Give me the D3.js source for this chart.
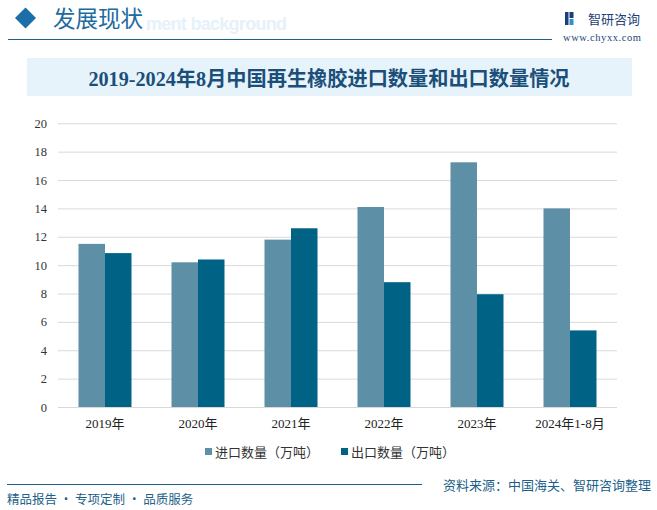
<!DOCTYPE html>
<html><head><meta charset="utf-8">
<script src="https://cdn.jsdelivr.net/npm/d3@7"></script>
<style>body{margin:0;background:#fff}svg{display:block}</style>
</head><body>
<script>
const categories = ["2019年","2020年","2021年","2022年","2023年","2024年1-8月"];
const seriesNames = ["进口数量（万吨）","出口数量（万吨）"];
const importValues = [11.5, 10.2, 11.8, 14.1, 17.25, 14.0];
const exportValues = [10.85, 10.4, 12.6, 8.8, 7.95, 5.4];
const yTicks = [0,2,4,6,8,10,12,14,16,18,20];
const colors = ["#5d8fa7","#006385"];

const W=657,H=510;
const svg=d3.select("body").append("svg").attr("width",W).attr("height",H);
const serif='"Liberation Serif","DejaVu Serif","Noto Sans CJK SC",serif';
const sans='"Noto Sans CJK SC","Noto Sans",sans-serif';

// header
svg.append("text").attr("x",146).attr("y",30).text("ment background").attr("textLength",141)
  .attr("font-family",'"Liberation Sans",Arial,sans-serif').attr("font-weight","bold").attr("font-size",18).attr("fill","#e6f1f9");
svg.append("path").attr("d","M25.5,7.5 L36,18 L25.5,28.5 L15,18 Z").attr("fill","#1a6fa8");
svg.append("text").attr("x",53).attr("y",27).text("发展现状")
  .attr("font-family",sans).attr("font-size",22.5).attr("fill","#1b6aa0");
svg.append("line").attr("x1",8).attr("x2",552).attr("y1",39.5).attr("y2",39.5).attr("stroke","#1d5f8a").attr("stroke-width",1.2);
// logo
const lg=svg.append("g");
lg.append("rect").attr("x",565).attr("y",12).attr("width",3.5).attr("height",13).attr("fill","#1d3f77");
lg.append("rect").attr("x",569.5).attr("y",12).attr("width",4).attr("height",6).attr("fill","#1d3f77");
lg.append("rect").attr("x",569.5).attr("y",19).attr("width",4).attr("height",6).attr("fill","#2d8fd0");
svg.append("text").attr("x",588).attr("y",24).text("智研咨询")
  .attr("font-family",sans).attr("font-size",13).attr("fill","#1d3f77");
svg.append("text").attr("x",563).attr("y",41).text("www.chyxx.com").attr("textLength",78)
  .attr("font-family",serif).attr("font-size",10.5).attr("fill","#1d3f77");

// title band
svg.append("rect").attr("x",27).attr("y",58).attr("width",605).attr("height",38).attr("fill","#e6f3fb");
svg.append("text").attr("x",329).attr("y",86).attr("text-anchor","middle")
  .text("2019-2024年8月中国再生橡胶进口数量和出口数量情况")
  .attr("font-family",serif).attr("font-weight","bold").attr("font-size",20.2).attr("fill","#1b4f7a");

// scales
const y=d3.scaleLinear().domain([0,20]).range([407,123.3]);
const x0=d3.scaleBand().domain(categories).range([58.5,616.5]).paddingInner(0.43).paddingOuter(0.215);
const x1=d3.scaleBand().domain(seriesNames).range([0,x0.bandwidth()]);

// grid
const yAxis=d3.axisLeft(y).tickValues(yTicks).tickSize(-(617-58)).tickFormat(d3.format("d"));
const ga=svg.append("g").attr("transform","translate(58,0)").call(yAxis);
ga.select(".domain").remove();
ga.selectAll(".tick line").attr("stroke","#d9d9d9").attr("stroke-width",1);
ga.selectAll(".tick text").attr("x",-11).attr("font-family",serif).attr("font-size",12.5).attr("fill","#333");

// bars
const data=categories.map((c,i)=>({c,vals:[importValues[i],exportValues[i]]}));
const groups=svg.append("g").selectAll("g").data(data).join("g").attr("transform",d=>`translate(${x0(d.c)},0)`);
groups.selectAll("rect").data(d=>d.vals.map((v,j)=>({s:seriesNames[j],v,j}))).join("rect")
  .attr("x",d=>x1(d.s)).attr("width",x1.bandwidth())
  .attr("y",d=>y(d.v)).attr("height",d=>y(0)-y(d.v)).attr("fill",d=>colors[d.j]);

// x axis
const xAxis=d3.axisBottom(x0).tickSize(0).tickPadding(12);
const gx=svg.append("g").attr("transform","translate(0,407)").call(xAxis);
gx.select(".domain").remove();
gx.selectAll(".tick text").attr("font-family",serif).attr("font-size",13).attr("fill","#222");

// legend
const legX=[205,341];
seriesNames.forEach((s,i)=>{
  svg.append("rect").attr("x",legX[i]).attr("y",448).attr("width",7).attr("height",7).attr("fill",colors[i]);
  svg.append("text").attr("x",legX[i]+10).attr("y",457).text(s).attr("font-family",sans).attr("font-size",13).attr("fill","#333");
});

// footer
svg.append("line").attr("x1",7).attr("x2",422).attr("y1",484.5).attr("y2",484.5).attr("stroke","#1d5f8a").attr("stroke-width",1.2);
svg.append("text").attr("x",7).attr("y",504).text("精品报告 · 专项定制 · 品质服务")
  .attr("font-family",sans).attr("font-size",12.5).attr("fill","#1d5f8a");
svg.append("text").attr("x",651).attr("y",490).attr("text-anchor","end").text("资料来源：中国海关、智研咨询整理")
  .attr("font-family",sans).attr("font-size",13).attr("fill","#1d5f8a");
</script>
</body></html>
